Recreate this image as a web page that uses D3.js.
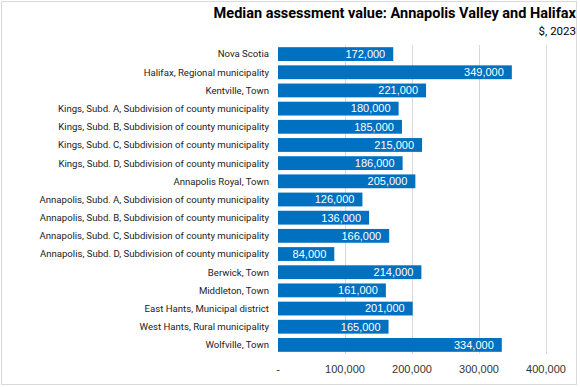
<!DOCTYPE html>
<html>
<head>
<meta charset="utf-8">
<script src="https://cdn.jsdelivr.net/npm/d3@7"></script>
<style>
  body { margin: 0; background: #fff; }
  svg { display: block; }
</style>
</head>
<body>
<div id="chart"></div>
<script>
// data
let categories = [
  'Nova Scotia',
  'Halifax, Regional municipality',
  'Kentville, Town',
  'Kings, Subd. A, Subdivision of county municipality',
  'Kings, Subd. B, Subdivision of county municipality',
  'Kings, Subd. C, Subdivision of county municipality',
  'Kings, Subd. D, Subdivision of county municipality',
  'Annapolis Royal, Town',
  'Annapolis, Subd. A, Subdivision of county municipality',
  'Annapolis, Subd. B, Subdivision of county municipality',
  'Annapolis, Subd. C, Subdivision of county municipality',
  'Annapolis, Subd. D, Subdivision of county municipality',
  'Berwick, Town',
  'Middleton, Town',
  'East Hants, Municipal district',
  'West Hants, Rural municipality',
  'Wolfville, Town'
];
let values = [172000, 349000, 221000, 180000, 185000, 215000, 186000, 205000,
  126000, 136000, 166000, 84000, 214000, 161000, 201000, 165000, 334000];
let ticks = [0, 100000, 200000, 300000, 400000];

let width = 580, height = 387;
let margin = {top: 45, right: 34, bottom: 33, left: 278};

let svg = d3.select('#chart').append('svg')
  .attr('width', width)
  .attr('height', height);

// outer border
svg.append('rect')
  .attr('x', 1.5).attr('y', 1.5)
  .attr('width', width - 5).attr('height', height - 4)
  .attr('fill', 'none')
  .attr('stroke', '#d9d9d9');

// titles
svg.append('text')
  .attr('x', 576).attr('y', 18)
  .attr('text-anchor', 'end')
  .style('font-family', 'Roboto, sans-serif')
  .style('font-weight', 'bold')
  .style('font-size', '14.5px')
  .text('Median assessment value: Annapolis Valley and Halifax');

svg.append('text')
  .attr('x', 576).attr('y', 35)
  .attr('text-anchor', 'end')
  .style('font-family', 'Roboto, sans-serif')
  .style('font-size', '11.5px')
  .text('$, 2023');

let x = d3.scaleLinear()
  .domain([0, 400000])
  .range([margin.left, 546]);

let y = d3.scaleBand()
  .domain(categories)
  .range([margin.top, height - margin.bottom])
  .paddingInner(0.24)
  .paddingOuter(0.12);

// gridlines
svg.append('g')
  .selectAll('line')
  .data(ticks.slice(1))
  .enter().append('line')
    .attr('x1', d => x(d) + 0.5)
    .attr('x2', d => x(d) + 0.5)
    .attr('y1', margin.top)
    .attr('y2', height - margin.bottom)
    .attr('stroke', '#d9d9d9');

// bars
svg.append('g')
  .selectAll('rect')
  .data(values)
  .enter().append('rect')
    .attr('x', x(0))
    .attr('y', (d, i) => y(categories[i]))
    .attr('width', d => x(d) - x(0))
    .attr('height', y.bandwidth())
    .attr('fill', '#0070C0');

// value labels
svg.append('g')
  .selectAll('text')
  .data(values)
  .enter().append('text')
    .attr('x', d => x(d) - 8)
    .attr('y', (d, i) => y(categories[i]) + y.bandwidth() / 2)
    .attr('dy', '0.35em')
    .attr('text-anchor', 'end')
    .attr('fill', '#fff')
    .style('font-family', '"Liberation Sans", Arial, sans-serif')
    .style('font-size', '11px')
    .text(d => d3.format(',')(d));

// category labels
svg.append('g')
  .selectAll('text')
  .data(categories)
  .enter().append('text')
    .attr('x', 269)
    .attr('y', d => y(d) + y.bandwidth() / 2)
    .attr('dy', '0.35em')
    .attr('text-anchor', 'end')
    .attr('fill', '#222')
    .style('font-family', 'Roboto, sans-serif')
    .style('font-size', '9.6px')
    .text(d => d);

// x tick labels
svg.append('g')
  .selectAll('text')
  .data(ticks)
  .enter().append('text')
    .attr('x', d => x(d))
    .attr('y', 373)
    .attr('text-anchor', 'middle')
    .attr('fill', '#333')
    .style('font-family', '"Liberation Sans", Arial, sans-serif')
    .style('font-size', '11px')
    .text(d => d === 0 ? '-' : d3.format(',')(d));
</script>
</body>
</html>
